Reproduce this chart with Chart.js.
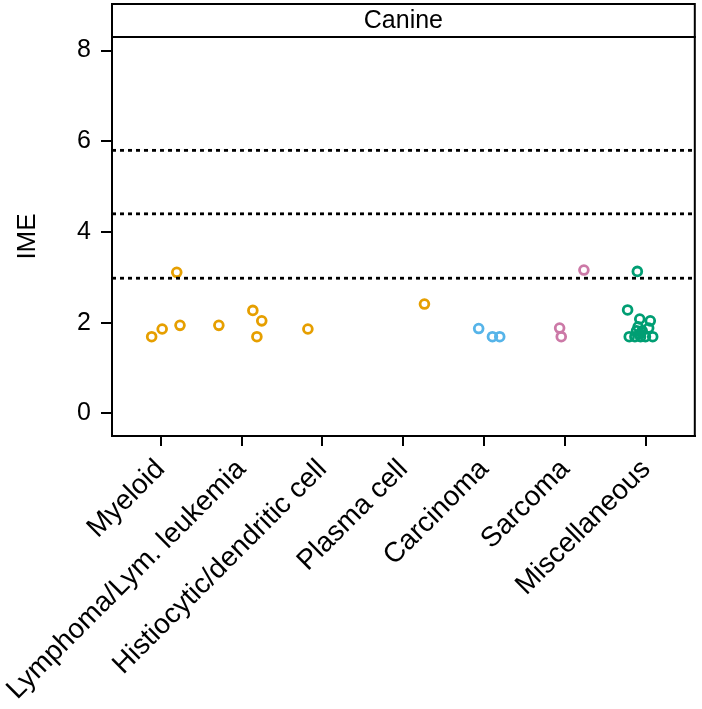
<!DOCTYPE html>
<html>
<head>
<meta charset="utf-8">
<script src="https://cdn.jsdelivr.net/npm/chart.js@4/dist/chart.umd.min.js"></script>
<style>
  html, body { margin: 0; padding: 0; background: #fff; }
  #wrap { width: 702px; height: 709px; }
</style>
</head>
<body>
<div id="wrap"><canvas id="graphic" width="702" height="709"></canvas></div>
<script>
// categories on the x axis
const categories = [
  'Myeloid',
  'Lymphoma/Lym. leukemia',
  'Histiocytic/dendritic cell',
  'Plasma cell',
  'Carcinoma',
  'Sarcoma',
  'Miscellaneous'
];
const yTicks = [0, 2, 4, 6, 8];
const cutoffs = [2.98, 4.40, 5.80];
const panelTitle = 'Canine';

// IME values per category, with their horizontal jitter
const myeloidIME = [1.69, 1.86, 3.11, 1.94];
const myeloidJitter = [-0.11, 0.02, 0.20, 0.24];
const lymphomaIME = [1.94, 2.27, 2.04, 1.69];
const lymphomaJitter = [-0.28, 0.14, 0.25, 0.19];
const histioIME = [1.86];
const histioJitter = [-0.18];
const plasmaIME = [2.41];
const plasmaJitter = [0.26];
const carcinomaIME = [1.87, 1.69, 1.69];
const carcinomaJitter = [-0.07, 0.10, 0.19];
const sarcomaIME = [1.88, 1.69, 3.16];
const sarcomaJitter = [-0.07, -0.05, 0.23];
const miscIME = [3.13, 2.28, 2.08, 2.04, 1.91, 1.88, 1.82, 1.82, 1.75, 1.69, 1.69, 1.69, 1.69, 1.69];
const miscJitter = [-0.11, -0.23, -0.08, 0.05, -0.10, 0.03, -0.12, -0.05, -0.08, -0.21, -0.14, -0.07, -0.01, 0.08];

const ORANGE = '#E69F00';
const BLUE = '#56B4E9';
const PINK = '#CC79A7';
const GREEN = '#009E73';

function pts(idx, jitter, ime) {
  return ime.map((v, i) => ({ x: idx + jitter[i], y: v }));
}

const X_MIN = -0.6, X_MAX = 6.6;

const dots = (data, color) => ({
  type: 'scatter',
  data,
  borderColor: color,
  backgroundColor: 'rgba(0,0,0,0)',
  pointRadius: 4.4,
  pointHoverRadius: 4.4,
  pointBorderWidth: 2.8,
  showLine: false
});

const cutLines = cutoffs.map(v => ({
  type: 'line',
  data: [{ x: X_MIN, y: v }, { x: X_MAX, y: v }],
  borderColor: '#000',
  borderWidth: 2.8,
  borderDash: [4, 4],
  pointRadius: 0,
  fill: false
}));

// header strip + full frame around the panel
const panelPlugin = {
  id: 'panel',
  afterDraw(chart) {
    const { ctx, chartArea: a } = chart;
    ctx.save();
    ctx.strokeStyle = '#000';
    ctx.lineWidth = 2;
    ctx.strokeRect(a.left, a.top, a.right - a.left, a.bottom - a.top);
    ctx.fillStyle = '#fff';
    ctx.fillRect(a.left, 4, a.right - a.left, a.top - 4);
    ctx.strokeRect(a.left, 4, a.right - a.left, a.top - 4);
    ctx.fillStyle = '#000';
    ctx.font = '25px "Liberation Sans", Arial, sans-serif';
    ctx.textAlign = 'center';
    ctx.textBaseline = 'middle';
    ctx.fillText(panelTitle, (a.left + a.right) / 2, (4 + a.top) / 2 + 1);
    ctx.restore();
  }
};

const fam = '"Liberation Sans", Arial, sans-serif';

const config = {
  type: 'scatter',
  data: {
    datasets: [
      ...cutLines,
      dots(pts(0, myeloidJitter, myeloidIME), ORANGE),
      dots(pts(1, lymphomaJitter, lymphomaIME), ORANGE),
      dots(pts(2, histioJitter, histioIME), ORANGE),
      dots(pts(3, plasmaJitter, plasmaIME), ORANGE),
      dots(pts(4, carcinomaJitter, carcinomaIME), BLUE),
      dots(pts(5, sarcomaJitter, sarcomaIME), PINK),
      dots(pts(6, miscJitter, miscIME), GREEN)
    ]
  },
  options: {
    responsive: false,
    animation: false,
    layout: { padding: { top: 37, right: 2, left: 0, bottom: 0 } },
    plugins: { legend: { display: false }, tooltip: { enabled: false } },
    scales: {
      x: {
        type: 'linear',
        min: X_MIN,
        max: X_MAX,
        afterBuildTicks: s => { s.ticks = categories.map((c, i) => ({ value: i })); },
        afterFit: s => { s.height = 273; },
        grid: { drawOnChartArea: false, drawTicks: true, tickLength: 10, lineWidth: 2, color: '#000' },
        border: { display: true, color: '#000', width: 2 },
        ticks: {
          autoSkip: false,
          minRotation: 45,
          maxRotation: 45,
          padding: 7,
          color: '#000',
          font: { family: fam, size: 28 },
          callback: v => categories[v] ?? ''
        }
      },
      y: {
        min: -0.5,
        max: 8.3,
        afterBuildTicks: s => { s.ticks = yTicks.map(v => ({ value: v })); },
        afterFit: s => { s.width = 112; },
        grid: { drawOnChartArea: false, drawTicks: true, tickLength: 11, lineWidth: 2, color: '#000' },
        border: { display: true, color: '#000', width: 2 },
        ticks: { padding: 10, color: '#000', font: { family: fam, size: 25 } },
        title: { display: true, text: 'IME', color: '#000', font: { family: fam, size: 26 }, padding: { top: 12, bottom: 0 } }
      }
    }
  },
  plugins: [panelPlugin]
};

new Chart(document.getElementById('graphic'), config);
</script>
</body>
</html>
